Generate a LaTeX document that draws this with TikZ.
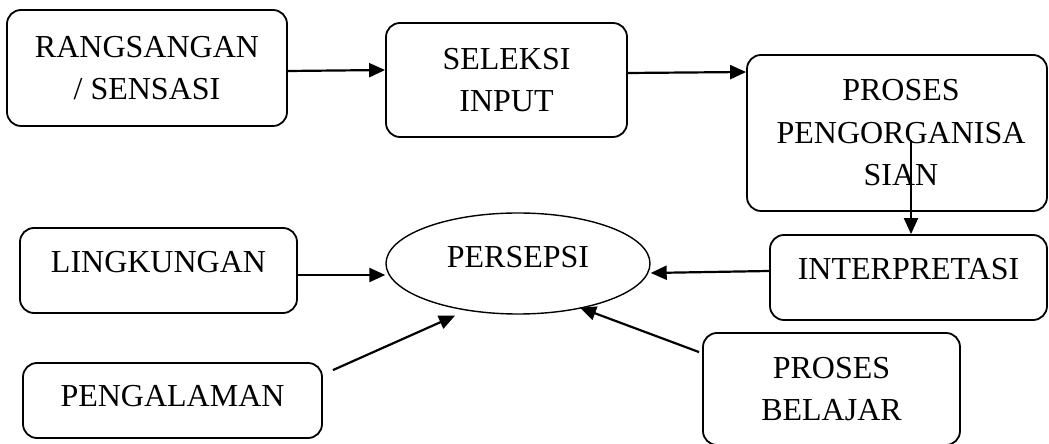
\documentclass[tikz,border=0pt]{standalone}
\usepackage{fontspec}
\setmainfont{Liberation Serif}
\usetikzlibrary{shapes.geometric,arrows.meta}
\begin{document}
\begin{tikzpicture}[x=1pt,y=1pt,
  txt/.style={font=\fontsize{32}{42.5}\selectfont, align=center, inner sep=0pt},
  box/.style={txt, draw, line width=1.8pt, rounded corners=14pt, rectangle},
  oval/.style={txt, draw, line width=1.4pt, ellipse},
  arr/.style={line width=2.2pt, -{Triangle[length=16pt,width=14pt]}}]
\useasboundingbox (0,0) rectangle (1049,444);
\node[box, minimum width=280pt, minimum height=116pt] (b1) at (147,376) {RANGSANGAN\\/ SENSASI};
\node[box, minimum width=241pt, minimum height=114pt] (b2) at (506.5,364) {SELEKSI\\INPUT};
\node[box, minimum width=300pt, minimum height=156pt] (b3) at (897,311) {\hspace*{8pt}PROSES\\\hspace*{8pt}PENGORGANISA\\\hspace*{8pt}SIAN};
\node[box, minimum width=277pt, minimum height=85pt, text height=21pt, text depth=16pt] (b4) at (908.5,166.5) {INTERPRETASI};
\node[box, minimum width=277pt, minimum height=85pt, text height=21pt, text depth=16pt] (lk) at (158.5,173.5) {LINGKUNGAN};
\node[box, minimum width=299pt, minimum height=75pt, text height=21pt, text depth=8pt] (pg) at (172.5,43.5) {PENGALAMAN};
\node[box, minimum width=257pt, minimum height=112pt] (pb) at (831.5,55) {PROSES\\BELAJAR};
\node[oval, minimum width=264pt, minimum height=101pt, text height=21pt, text depth=12pt] (ell) at (518,180.5) {PERSEPSI};
\draw[arr] ([yshift=-3pt]b1.east) -- ([yshift=10pt]b2.west);
\draw[arr] ([yshift=7pt]b2.east) -- ([yshift=61pt]b3.west);
\draw[arr] ([xshift=14pt,yshift=-7pt]b3.center) -- ([xshift=2.5pt]b4.north);
\draw[arr] ([yshift=6.5pt]b4.west) -- ([yshift=-9.5pt]ell.east);
\draw[arr] ([yshift=-4.5pt]lk.east) -- ([yshift=-11.5pt]ell.west);
\draw[arr] ([xshift=10pt,yshift=-8pt]pg.north east) -- ([xshift=-63pt,yshift=-1pt]ell.south);
\draw[arr] ([xshift=-3pt,yshift=-20pt]pb.north west) -- ([xshift=62pt,yshift=7pt]ell.south);
\end{tikzpicture}
\end{document}
